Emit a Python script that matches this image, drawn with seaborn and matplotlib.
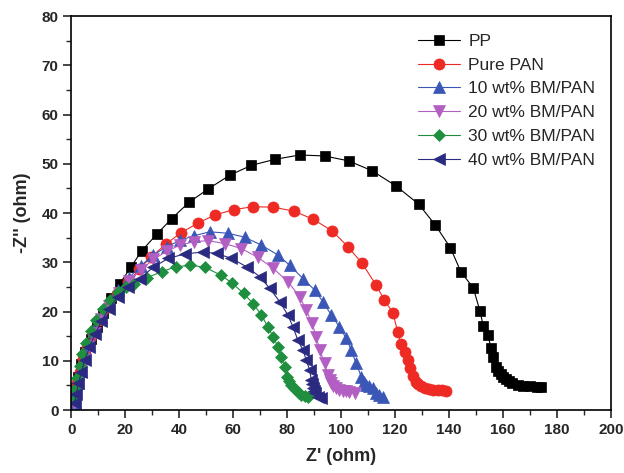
import matplotlib
matplotlib.use("Agg")
import matplotlib.pyplot as plt
import seaborn as sns
import pandas as pd
from matplotlib.ticker import MultipleLocator

sns.set_theme(style="white")
plt.rcParams['font.family'] = ['Liberation Sans', 'DejaVu Sans']

labels = ["PP", "Pure PAN", "10 wt% BM/PAN", "20 wt% BM/PAN", "30 wt% BM/PAN", "40 wt% BM/PAN"]

pp_x = [1.0, 1.5, 2.5, 3.8, 5.2, 7.2, 9.7, 11.9, 14.7, 18.1, 22.1, 26.1, 31.7, 37.3, 43.7, 50.8, 58.8, 66.8,
        75.4, 84.7, 93.9, 102.8, 111.5, 120.4, 128.8, 134.9, 140.5, 144.4, 149.0, 151.5, 152.7, 154.5, 155.5,
        156.4, 157.4, 158.3, 159.2, 160.2, 161.1, 162.3, 163.5, 165.5, 167.5, 170.0, 172.5, 174.0]
pp_y = [2.5, 4.5, 6.8, 9.3, 11.8, 14.4, 16.9, 19.8, 22.7, 25.7, 29.0, 32.3, 35.7, 38.9, 42.2, 44.9, 47.7, 49.7,
        50.9, 51.8, 51.6, 50.6, 48.6, 45.5, 41.8, 37.6, 33.0, 28.1, 24.8, 20.1, 17.1, 15.2, 12.7,
        10.8, 8.8, 8.0, 7.4, 6.8, 6.4, 6.0, 5.6, 5.1, 4.9, 4.8, 4.7, 4.6]

pan_x = [1.0, 1.5, 2.2, 3.2, 4.5, 6.0, 8.0, 10.5, 13.5, 17.0, 21.2, 25.2, 29.5, 35.1, 40.7, 47.1, 53.2, 60.2,
         67.4, 74.8, 82.6, 89.8, 96.7, 102.5, 107.8, 113.0, 116.1, 119.2, 121.0, 122.2, 123.8, 124.7, 125.6,
         126.6, 127.8, 128.7, 129.6, 131.0, 132.7, 134.2, 135.8, 137.4, 138.9]
pan_y = [1.8, 3.5, 5.5, 7.8, 10.3, 12.8, 15.5, 18.3, 21.0, 23.6, 26.0, 28.6, 31.0, 33.7, 36.0, 38.0, 39.6, 40.7,
         41.3, 41.2, 40.4, 38.7, 36.4, 33.2, 29.8, 25.4, 22.3, 19.8, 15.9, 13.5, 11.8, 10.2, 8.5,
         6.9, 5.8, 5.3, 4.9, 4.5, 4.2, 4.1, 4.1, 4.0, 3.9]

bm10_x = [1.0, 1.6, 2.4, 3.5, 4.8, 6.5, 8.5, 11.0, 14.0, 17.5, 21.5, 25.8, 30.5, 35.5, 40.5, 45.5, 51.4, 58.2,
          64.3, 70.5, 76.6, 81.0, 85.9, 90.2, 93.3, 96.4, 99.4, 101.9, 103.8, 105.6, 107.5, 108.4, 109.3, 110.5,
          111.8, 113.0, 114.2, 115.5]
bm10_y = [1.5, 3.5, 5.6, 8.0, 10.6, 13.3, 16.0, 18.8, 21.6, 24.3, 26.9, 29.3, 31.5, 33.2, 34.5, 35.4, 36.2, 35.9,
          35.1, 33.5, 31.5, 29.4, 26.7, 24.4, 22.0, 19.3, 16.9, 14.6, 12.2, 9.5, 6.8, 5.8, 5.1, 4.8,
          4.4, 3.5, 3.0, 2.6]

bm20_x = [1.2, 1.8, 2.6, 3.7, 5.0, 6.7, 8.7, 11.2, 14.2, 17.6, 21.5, 25.8, 30.5, 35.5, 40.5, 45.5, 50.8, 56.9,
          63.1, 69.2, 74.8, 80.3, 84.7, 87.1, 89.3, 90.8, 92.1, 93.9, 95.1, 95.8, 96.4, 97.2, 98.2, 99.4,
          100.7, 101.9, 103.1, 105.0]
bm20_y = [1.5, 3.4, 5.5, 7.9, 10.4, 13.0, 15.7, 18.4, 21.1, 23.7, 26.2, 28.5, 30.6, 32.3, 33.5, 34.2, 34.4, 33.8,
          32.8, 31.0, 28.8, 26.1, 23.0, 20.3, 17.6, 14.9, 12.2, 9.5, 7.1, 6.2, 5.4, 4.8, 4.4, 4.1,
          3.9, 3.8, 3.7, 3.4]

bm30_x = [1.0, 1.5, 2.2, 3.1, 4.2, 5.6, 7.3, 9.3, 11.7, 14.4, 17.4, 20.5, 23.3, 28.2, 33.5, 38.8, 44.2, 49.5,
          55.5, 59.6, 63.9, 67.5, 70.5, 72.9, 74.8, 76.6, 77.9, 79.1, 80.0, 80.8, 81.6, 82.5, 83.4, 84.3,
          85.3, 86.5, 87.7]
bm30_y = [2.0, 4.2, 6.5, 8.9, 11.3, 13.7, 16.0, 18.3, 20.5, 22.3, 23.9, 24.9, 25.6, 26.9, 28.1, 29.1, 29.4, 29.0,
          27.4, 25.8, 23.7, 21.6, 19.3, 16.9, 14.9, 12.9, 10.8, 8.8, 6.8, 5.9, 5.1, 4.5, 4.1, 3.5,
          3.0, 2.8, 2.7]

bm40_x = [1.3, 1.9, 2.7, 3.8, 5.1, 6.8, 8.8, 11.2, 14.0, 17.3, 21.0, 25.5, 30.4, 36.0, 42.1, 48.9, 53.9, 59.4,
          65.0, 69.9, 73.6, 77.3, 80.3, 82.2, 84.0, 85.9, 87.1, 88.4, 89.0, 89.3, 89.6, 90.0, 90.5, 91.4, 92.7]
bm40_y = [1.5, 3.3, 5.4, 7.7, 10.2, 12.8, 15.4, 18.0, 20.6, 23.0, 25.0, 26.7, 29.0, 30.8, 31.7, 32.1, 31.8, 30.8,
          29.1, 27.1, 24.7, 22.0, 19.3, 16.9, 14.2, 12.2, 10.2, 8.1, 6.1, 5.2, 4.4, 3.9, 3.4, 2.7, 2.4]

series_x = [pp_x, pan_x, bm10_x, bm20_x, bm30_x, bm40_x]
series_y = [pp_y, pan_y, bm10_y, bm20_y, bm30_y, bm40_y]
colors = ["#000000", "#ee2a24", "#3a56b6", "#b25ec2", "#1f8f3f", "#2a2a80"]
markers = ["s", "o", "^", "v", "D", "<"]
msizes = [7.0, 8.0, 8.0, 8.0, 6.5, 8.0]

fig = plt.figure(figsize=(6.24, 4.73), dpi=100)
ax = fig.add_axes([0.114, 0.133, 0.865, 0.833])

for lab, xs, ys, c, m, ms in zip(labels, series_x, series_y, colors, markers, msizes):
    df = pd.DataFrame({"x": xs, "y": ys})
    sns.lineplot(data=df, x="x", y="y", sort=False, ax=ax, color=c, marker=m,
                 markersize=ms, markeredgecolor=c, markerfacecolor=c, markeredgewidth=0.5,
                 linewidth=0.8, label=lab)

ax.set_xlim(0, 200)
ax.set_ylim(0, 80)
ax.xaxis.set_major_locator(MultipleLocator(20))
ax.xaxis.set_minor_locator(MultipleLocator(10))
ax.yaxis.set_major_locator(MultipleLocator(10))
ax.yaxis.set_minor_locator(MultipleLocator(5))
ax.tick_params(axis="both", which="major", direction="out", length=6, width=1.2,
               labelsize=11, bottom=True, left=True, top=False, right=False, pad=3)
ax.tick_params(axis="both", which="minor", direction="out", length=3.5, width=1.0,
               bottom=True, left=True, top=False, right=False)
for lbl in ax.get_xticklabels() + ax.get_yticklabels():
    lbl.set_fontweight("bold")
for sp in ax.spines.values():
    sp.set_color("black")
    sp.set_linewidth(1.2)

ax.set_xlabel("Z' (ohm)", fontsize=13, fontweight="bold", labelpad=8)
ax.set_ylabel("-Z'' (ohm)", fontsize=13, fontweight="bold", labelpad=8)

leg = ax.legend(loc="upper right", frameon=False, fontsize=12.5, handlelength=2.4,
                handletextpad=0.5, labelspacing=0.5, bbox_to_anchor=(1.0, 0.995))

fig.savefig("out.png", dpi=100)
